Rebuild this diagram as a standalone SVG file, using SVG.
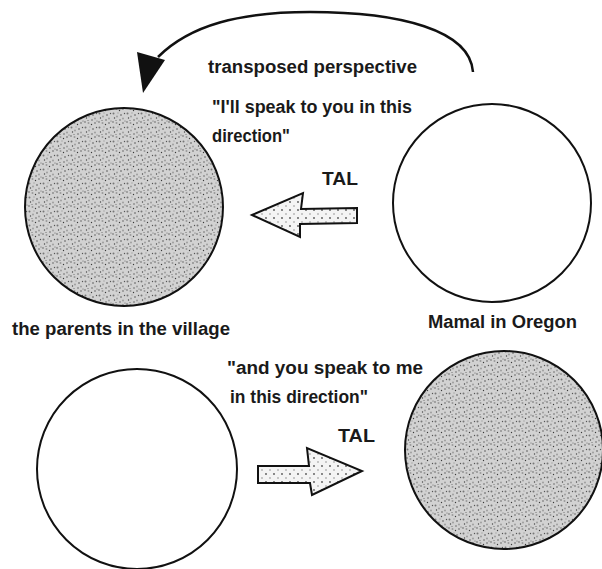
<svg xmlns="http://www.w3.org/2000/svg" width="602" height="569" viewBox="0 0 602 569">
  <defs>
    <style>
      .t { font-family: "Liberation Sans", Arial, sans-serif; font-weight: bold; font-size: 18px; fill: #1a1a1a; }
      .circ { stroke: #111; stroke-width: 2; }
      .blank { fill: #ffffff; }
      .dotted { fill: url(#stipple); }
      .blk { fill: url(#lightdots); stroke: #111; stroke-width: 2; stroke-linejoin: miter; }
      .curve { fill: none; stroke: #111; stroke-width: 2.5; }
    </style>
    <pattern id="stipple" width="14" height="14" patternUnits="userSpaceOnUse">
      <rect width="14" height="14" fill="#d2d2d2"/>
      <circle cx="1.5" cy="1.5" r="1" fill="#777"/>
      <circle cx="5" cy="4.5" r="0.9" fill="#999"/>
      <circle cx="2.5" cy="6" r="0.7" fill="#444"/>
      <circle cx="6" cy="1" r="0.7" fill="#a0a0a0"/>
      <circle cx="9" cy="3" r="1" fill="#888"/>
      <circle cx="12.5" cy="1.5" r="0.7" fill="#555"/>
      <circle cx="11" cy="6.5" r="0.9" fill="#999"/>
      <circle cx="8" cy="8" r="0.8" fill="#666"/>
      <circle cx="1" cy="10" r="0.9" fill="#8a8a8a"/>
      <circle cx="4.5" cy="11" r="1" fill="#9a9a9a"/>
      <circle cx="7.5" cy="12.5" r="0.7" fill="#3a3a3a"/>
      <circle cx="11" cy="11" r="0.9" fill="#888"/>
      <circle cx="13" cy="9" r="0.6" fill="#666"/>
      <circle cx="4" cy="8.5" r="0.5" fill="#555"/>
    </pattern>
    <pattern id="lightdots" width="8" height="8" patternUnits="userSpaceOnUse">
      <rect width="8" height="8" fill="#f4f4f4"/>
      <circle cx="2" cy="2" r="0.9" fill="#555"/>
      <circle cx="6" cy="6" r="0.7" fill="#777"/>
    </pattern>
  </defs>
  <rect width="602" height="569" fill="#ffffff"/>

  <g id="connectors">
    <g id="transposed-arrow">
      <path class="curve" d="M473,72 C470,30 400,12 310,12 C240,12 190,25 158,57"/>
      <polygon points="137,52 165,60 143,93" fill="#111"/>
    </g>
    <g id="tal-left">
      <polygon class="blk" points="252,215 303,193 301,209 357,208 357,223 300,224 300,237"/>
    </g>
    <g id="tal-right">
      <polygon class="blk" points="258,466 309,466 307,448 362,471 312,495 310,483 258,483"/>
    </g>
  </g>

  <g id="node-parents-top">
    <circle class="circ dotted" cx="124" cy="207" r="99"/>
  </g>
  <g id="node-mamal-top">
    <circle class="circ blank" cx="492" cy="203" r="99"/>
  </g>
  <g id="node-left-bottom">
    <circle class="circ blank" cx="137" cy="469" r="100"/>
  </g>
  <g id="node-right-bottom">
    <circle class="circ dotted" cx="504" cy="450" r="99"/>
  </g>

  <g id="labels">
    <text class="t" x="208" y="73" textLength="209" lengthAdjust="spacingAndGlyphs">transposed perspective</text>
    <text class="t" x="212" y="113" textLength="200" lengthAdjust="spacingAndGlyphs">"I'll speak to you in this</text>
    <text class="t" x="212" y="142" textLength="78" lengthAdjust="spacingAndGlyphs">direction"</text>
    <text class="t" x="322" y="185" textLength="36" lengthAdjust="spacingAndGlyphs">TAL</text>
    <text class="t" x="12" y="335" textLength="218" lengthAdjust="spacingAndGlyphs">the parents in the village</text>
    <text class="t" x="428" y="328" textLength="149" lengthAdjust="spacingAndGlyphs">Mamal in Oregon</text>
    <text class="t" x="227" y="374" textLength="196" lengthAdjust="spacingAndGlyphs">"and you speak to me</text>
    <text class="t" x="230" y="403" textLength="138" lengthAdjust="spacingAndGlyphs">in this direction"</text>
    <text class="t" x="338" y="442" textLength="37" lengthAdjust="spacingAndGlyphs">TAL</text>
  </g>
</svg>
